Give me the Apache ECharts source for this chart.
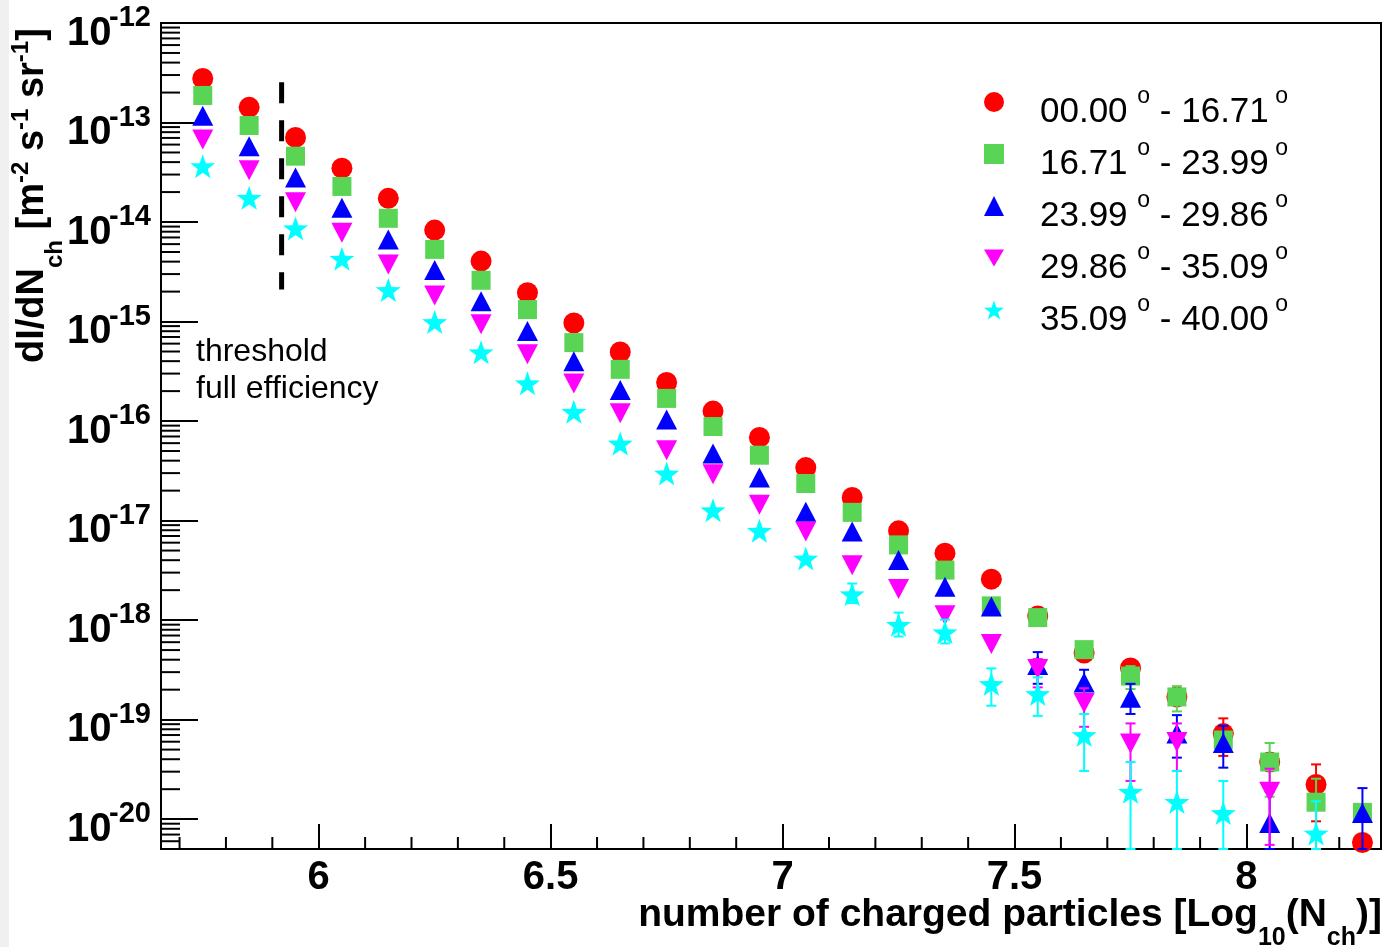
<!DOCTYPE html>
<html>
<head>
<meta charset="utf-8">
<title>dI/dNch vs Nch</title>
<script src="https://cdn.jsdelivr.net/npm/echarts@6/dist/echarts.min.js"></script>
<style>
  html, body { margin: 0; padding: 0; background: #fff; }
  #main { width: 1386px; height: 947px; }
</style>
</head>
<body>
<div id="main"></div>
<script>
// bin centres, log10(Nch)
var nchBins = [5.75, 5.85, 5.95, 6.05, 6.15, 6.25, 6.35, 6.45, 6.55, 6.65, 6.75, 6.85, 6.95,
  7.05, 7.15, 7.25, 7.35, 7.45, 7.55, 7.65, 7.75, 7.85, 7.95, 8.05, 8.15, 8.25];

var angleBins = ['00.00 - 16.71', '16.71 - 23.99', '23.99 - 29.86', '29.86 - 35.09', '35.09 - 40.00'];

// y tick labels, 10^n
var yDecades = [-20, -19, -18, -17, -16, -15, -14, -13, -12];

// dI/dNch per zenith bin  [m^-2 s^-1 sr^-1]
var flux0 = [2.77e-13, 1.42e-13, 7.08e-14, 3.48e-14, 1.73e-14, 8.30e-15, 4.05e-15, 1.95e-15, 9.66e-16,
  4.94e-16, 2.44e-16, 1.26e-16, 6.85e-17, 3.41e-17, 1.71e-17, 7.89e-18, 4.71e-18, 2.58e-18, 1.10e-18,
  4.67e-19, 3.30e-19, 1.69e-19, 7.24e-20, 3.75e-20, 2.23e-20, 5.82e-21];
var flux1 = [1.87e-13, 9.33e-14, 4.59e-14, 2.28e-14, 1.09e-14, 5.31e-15, 2.60e-15, 1.32e-15, 6.14e-16,
  3.31e-16, 1.69e-16, 8.81e-17, 4.54e-17, 2.36e-17, 1.21e-17, 5.70e-18, 3.18e-18, 1.39e-18, 1.06e-18,
  5.05e-19, 2.74e-19, 1.69e-19, 6.24e-20, 3.75e-20, 1.48e-20, 1.17e-20];
var flux2 = [1.17e-13, 5.78e-14, 2.81e-14, 1.39e-14, 6.68e-15, 3.29e-15, 1.60e-15, 8.04e-16, 3.98e-16,
  2.05e-16, 1.04e-16, 4.71e-17, 2.71e-17, 1.23e-17, 7.78e-18, 4.01e-18, 2.16e-18, 1.37e-18, 3.53e-19,
  2.36e-19, 1.66e-19, 7.24e-20, 5.82e-20, 9.16e-21, null, 1.15e-20];
var flux3 = [6.75e-14, 3.32e-14, 1.58e-14, 7.82e-15, 3.75e-15, 1.83e-15, 9.38e-16, 4.69e-16, 2.38e-16,
  1.20e-16, 5.09e-17, 2.92e-17, 1.44e-17, 7.78e-18, 3.56e-18, 2.05e-18, 1.12e-18, 5.74e-19, 3.22e-19,
  1.47e-19, 5.74e-20, 5.96e-20, null, 1.88e-20, null, null];
var flux4 = [3.64e-14, 1.75e-14, 8.63e-15, 4.28e-15, 2.07e-15, 9.89e-16, 4.91e-16, 2.40e-16, 1.24e-16,
  5.94e-17, 2.97e-17, 1.27e-17, 7.89e-18, 4.16e-18, 1.82e-18, 8.97e-19, 7.53e-19, 2.28e-19, 1.81e-19,
  7.00e-20, 1.88e-20, 1.49e-20, 1.15e-20, null, 7.18e-21, null];

// visible error bars: [bin, low, high]
var err0 = [[7.95, 4.32e-20, 1.03e-19], [8.15, 9.51e-21, 3.55e-20]];
var err1 = [[7.75, 2.03e-19, 3.45e-19], [7.85, 1.21e-19, 2.17e-19], [8.05, 1.68e-20, 5.82e-20],
  [8.15, 4.1e-21, 2.55e-20]];
var err2 = [[7.55, 2.29e-19, 4.77e-19], [7.65, 1.55e-19, 3.17e-19], [7.75, 1.14e-19, 2.29e-19],
  [7.85, 4.15e-20, 1.11e-19], [7.95, 3.29e-20, 8.67e-20], [8.05, 1e-22, 1.9e-20], [8.25, 1e-22, 2.05e-20]];
var err3 = [[7.55, 2.11e-19, 4.06e-19], [7.65, 8.47e-20, 2.07e-19], [7.75, 2.42e-20, 9.16e-20],
  [7.85, 3.05e-20, 9.16e-20], [8.05, 5.51e-21, 3.21e-20]];
var err4 = [[7.15, 1.48e-18, 2.33e-18], [7.25, 6.85e-19, 1.19e-18], [7.35, 5.83e-19, 1.01e-18],
  [7.45, 1.38e-19, 3.27e-19], [7.55, 1.09e-19, 2.66e-19], [7.65, 3.05e-20, 1.14e-19],
  [7.75, 1e-22, 3.75e-20], [7.85, 1e-22, 3.05e-20], [7.95, 1e-22, 2.42e-20], [8.15, 1e-22, 1.51e-20]];

// full efficiency threshold
var thresholdX = 5.92;
var thresholdSpan = [2.54e-13, 2.10e-15];

var FONT = '"Liberation Sans", Arial, Helvetica, sans-serif';
var STAR = 'path://M0,-10L2.35,-3.24L9.51,-3.09L3.8,1.24L5.88,8.09L0,4L-5.88,8.09L-3.8,1.24L-9.51,-3.09L-2.35,-3.24Z';
var DOWN = 'path://M-10,0L10,0L0,17Z';

var styles = [
  { color: '#ff0000', symbol: 'circle', size: 21 },
  { color: '#59d454', symbol: 'rect', size: 19 },
  { color: '#0000ff', symbol: 'triangle', size: [21, 20] },
  { color: '#ff00ff', symbol: DOWN, size: [21, 20] },
  { color: '#00ffff', symbol: STAR, size: [25, 24] }
];
var fluxes = [flux0, flux1, flux2, flux3, flux4];
var errors = [err0, err1, err2, err3, err4];

// minor ticks (ROOT style log ticks on y, 0.1 steps on x)
var tickData = [];
for (var k = 57; k <= 82; k++) {
  if (k % 5) tickData.push([0, k / 10, 12]);
}
for (var d = -21; d <= -13; d++) {
  for (var m = 2; m <= 9; m++) tickData.push([1, m * Math.pow(10, d), 19]);
}

function renderTicks(params, api) {
  var cs = params.coordSys;
  var kind = api.value(0), v = api.value(1), len = api.value(2);
  var st = { stroke: '#000', lineWidth: 2 };
  if (kind === 0) {
    var px = api.coord([v, 1e-16])[0];
    var yb = cs.y + cs.height;
    return { type: 'line', shape: { x1: px, y1: yb, x2: px, y2: yb - len }, style: st };
  }
  var py = api.coord([6, v])[1];
  if (py < cs.y || py > cs.y + cs.height) return;
  return { type: 'line', shape: { x1: cs.x, y1: py, x2: cs.x + len, y2: py }, style: st };
}

// 10^n labels with a raised exponent
function renderDecade(params, api) {
  var cs = params.coordSys;
  var e = api.value(0);
  var py = api.coord([6, Math.pow(10, e)])[1];
  var xs = cs.x - 51;
  return {
    type: 'group',
    children: [
      { type: 'text', x: xs + 1.5, y: py + 10.5,
        style: { text: '10', fontSize: 40, fontWeight: 'bold', fontFamily: FONT, fill: '#000', textAlign: 'right', textVerticalAlign: 'middle' } },
      { type: 'text', x: xs - 1, y: py - 5,
        style: { text: String(e), fontSize: 29, fontWeight: 'bold', fontFamily: FONT, fill: '#000', textAlign: 'left', textVerticalAlign: 'middle' } }
    ]
  };
}

function errorBars(color) {
  return function (params, api) {
    var cs = params.coordSys;
    var x = api.value(0);
    var pHi = api.coord([x, api.value(2)]);
    var pLo = api.coord([x, api.value(1)]);
    var top = Math.max(pHi[1], cs.y);
    var bot = Math.min(pLo[1], cs.y + cs.height);
    var st = { stroke: color, lineWidth: 2 };
    return {
      type: 'group',
      children: [
        { type: 'line', shape: { x1: pHi[0], y1: top, x2: pHi[0], y2: bot }, style: st },
        { type: 'line', shape: { x1: pHi[0] - 5, y1: top, x2: pHi[0] + 5, y2: top }, style: st },
        { type: 'line', shape: { x1: pHi[0] - 5, y1: bot, x2: pHi[0] + 5, y2: bot }, style: st }
      ]
    };
  };
}

var series = [];
for (var i = 0; i < fluxes.length; i++) {
  series.push({
    type: 'custom',
    name: 'err' + i,
    renderItem: errorBars(styles[i].color),
    encode: { x: 0, y: [1, 2] },
    data: errors[i],
    z: 3 + 2 * i,
    silent: true
  });
  var pts = [];
  for (var j = 0; j < nchBins.length; j++) {
    if (fluxes[i][j] != null) pts.push([nchBins[j], fluxes[i][j]]);
  }
  series.push({
    type: 'scatter',
    name: angleBins[i],
    data: pts,
    symbol: styles[i].symbol,
    symbolSize: styles[i].size,
    itemStyle: { color: styles[i].color, opacity: 1 },
    z: 4 + 2 * i
  });
}
series.push({
  type: 'line',
  name: 'threshold',
  data: [[thresholdX, thresholdSpan[0]], [thresholdX, thresholdSpan[1]]],
  showSymbol: false,
  symbol: 'none',
  lineStyle: { color: '#000', width: 5, type: [21, 17], cap: 'butt' },
  silent: true,
  z: 2
});
series.push({
  type: 'custom',
  name: 'minorTicks',
  renderItem: renderTicks,
  data: tickData,
  silent: true,
  z: 20
});
series.push({
  type: 'custom',
  name: 'yLabels',
  renderItem: renderDecade,
  data: yDecades.map(function (e) { return [e]; }),
  silent: true,
  z: 20
});

var chart = echarts.init(document.getElementById('main'), null, { renderer: 'canvas' });
chart.setOption({
  backgroundColor: '#fff',
  animation: false,
  textStyle: { fontFamily: FONT },
  grid: {
    left: 161, right: 5, top: 23, bottom: 98,
    show: true, borderColor: '#000', borderWidth: 2,
    containLabel: false, outerBoundsMode: 'none'
  },
  legend: {
    data: angleBins,
    orient: 'vertical',
    left: 979,
    top: 80,
    itemWidth: 20,
    itemHeight: 20,
    itemGap: 7,
    selectedMode: false,
    formatter: function (name) {
      var p = name.split(' - ');
      return '{a|' + p[0] + ' }{d|o}{t| - ' + p[1] + '}{d| o}';
    },
    textStyle: {
      color: '#000',
      fontFamily: FONT,
      rich: {
        a: { fontSize: 35, lineHeight: 34, color: '#000', fontFamily: FONT, verticalAlign: 'top', padding: [10, 0, 0, 31] },
        t: { fontSize: 35, lineHeight: 34, color: '#000', fontFamily: FONT, verticalAlign: 'top', padding: [10, 0, 0, 0] },
        d: { fontSize: 23, lineHeight: 6, color: '#000', fontFamily: FONT, verticalAlign: 'top' }
      }
    }
  },
  xAxis: {
    type: 'value',
    min: 5.66,
    max: 8.29,
    splitNumber: 5,
    axisLine: { show: true, lineStyle: { color: '#000', width: 2 } },
    axisTick: { show: true, inside: true, length: 25, lineStyle: { color: '#000', width: 2 } },
    splitLine: { show: false },
    axisLabel: {
      margin: 9,
      color: '#000',
      fontFamily: FONT,
      fontWeight: 'bold',
      fontSize: 40,
      lineHeight: 40,
      formatter: function (v) {
        return Math.abs(v * 2 - Math.round(v * 2)) < 1e-6 ? String(v) : '';
      }
    }
  },
  yAxis: {
    type: 'log',
    logBase: 10,
    min: Math.pow(10, -20.3),
    max: 1e-12,
    axisLine: { show: true, lineStyle: { color: '#000', width: 2 } },
    axisTick: { show: true, inside: true, length: 37, lineStyle: { color: '#000', width: 2 } },
    splitLine: { show: false },
    axisLabel: { show: false }
  },
  graphic: [
    { type: 'rect', left: 0, top: 0, shape: { width: 9, height: 947 }, style: { fill: '#f0f0f0' }, z: -1 },
    {
      type: 'text', x: 196, y: 352,
      style: { text: 'threshold', fontSize: 32, fontFamily: FONT, fill: '#000', textVerticalAlign: 'middle' }
    },
    {
      type: 'text', x: 196, y: 389,
      style: { text: 'full efficiency', fontSize: 32, fontFamily: FONT, fill: '#000', textVerticalAlign: 'middle' }
    },
    {
      // y-axis title, reads bottom to top
      type: 'text', x: 0, y: 363, rotation: Math.PI / 2,
      style: {
        text: '{m|dI/dN}{s|ch}{m| [m}{p|-2}{m| s}{p|-1}{m| sr}{p|-1}{m|]}',
        textAlign: 'left', textVerticalAlign: 'top',
        rich: {
          m: { fontSize: 38, fontWeight: 'bold', fontFamily: FONT, fill: '#000', lineHeight: 40, verticalAlign: 'top', padding: [14, 0, 0, 0] },
          s: { fontSize: 24, fontWeight: 'bold', fontFamily: FONT, fill: '#000', lineHeight: 23, verticalAlign: 'top', padding: [43, 0, 0, 0] },
          p: { fontSize: 24, fontWeight: 'bold', fontFamily: FONT, fill: '#000', lineHeight: 23, verticalAlign: 'top', padding: [9, 0, 0, 0] }
        }
      }
    },
    {
      // x-axis title
      type: 'text', x: 1382, y: 896,
      style: {
        text: '{m|number of charged particles [Log}{s|10}{m|(N}{s|ch}{m|)]}',
        textAlign: 'right', textVerticalAlign: 'top',
        rich: {
          m: { fontSize: 39, fontWeight: 'bold', fontFamily: FONT, fill: '#000', lineHeight: 40, verticalAlign: 'top' },
          s: { fontSize: 25, fontWeight: 'bold', fontFamily: FONT, fill: '#000', lineHeight: 24, verticalAlign: 'top', padding: [30, 0, 0, 0] }
        }
      }
    }
  ],
  series: series
});
</script>
</body>
</html>
